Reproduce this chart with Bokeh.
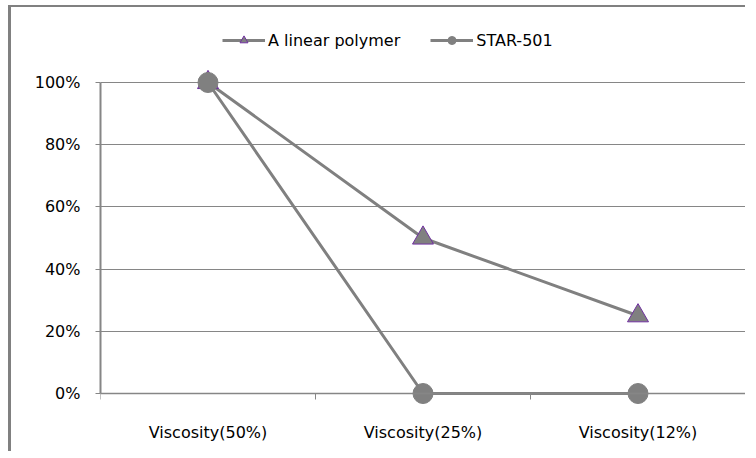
from bokeh.plotting import figure
from bokeh.models import Range1d, FixedTicker, Legend, LegendItem, LinearAxis
from bokeh.embed import file_html
from bokeh.resources import INLINE

categories = ["Viscosity(50%)", "Viscosity(25%)", "Viscosity(12%)"]
linear_polymer = [1.00, 0.50, 0.25]
star_501 = [1.00, 0.00, 0.00]
y_ticks = [0.0, 0.2, 0.4, 0.6, 0.8, 1.0]
y_tick_labels = ["0%", "20%", "40%", "60%", "80%", "100%"]

x = [i + 0.5 for i in range(len(categories))]
bounds_ticks = [i for i in range(len(categories) + 1)]

GRAY = "#868686"
LINE = "#808080"
FONT = "DejaVu Sans"

p = figure(width=737, height=446, output_backend="svg", toolbar_location=None,
           x_range=Range1d(0, len(categories)), y_range=Range1d(-0.0482, 1.2315),
           x_axis_location=None,
           min_border_left=89, min_border_right=3, min_border_top=3, min_border_bottom=45)
p.outline_line_color = None
p.xgrid.visible = False
p.styles = {"margin-left": "8px", "margin-top": "5px",
            "border-top": "2px solid #808080", "border-left": "3px solid #808080"}

# axis line and boundary ticks at y = 0
xa = LinearAxis(fixed_location=0)
xa.ticker = FixedTicker(ticks=x, minor_ticks=bounds_ticks)
xa.bounds = (0, len(categories))
xa.major_tick_out = 0
xa.major_tick_in = 0
xa.minor_tick_out = 6
xa.minor_tick_in = 0
xa.minor_tick_line_color = GRAY
xa.axis_line_color = GRAY
xa.axis_line_width = 1.5
xa.major_label_text_font_size = "0px"
xa.major_label_text_alpha = 0
p.add_layout(xa, "below")

# category labels
xl = LinearAxis()
xl.ticker = FixedTicker(ticks=x, minor_ticks=[])
xl.major_label_overrides = {xv: c for xv, c in zip(x, categories)}
xl.axis_line_color = None
xl.major_tick_line_color = None
xl.minor_tick_line_color = None
xl.major_tick_out = 0
xl.major_tick_in = 0
xl.major_label_standoff = 14
xl.major_label_text_font = FONT
xl.major_label_text_font_size = "16px"
xl.major_label_text_color = "#000000"
p.add_layout(xl, "below")

ya = p.yaxis[0]
ya.ticker = FixedTicker(ticks=y_ticks, minor_ticks=[])
ya.major_label_overrides = {v: t for v, t in zip(y_ticks, y_tick_labels)}
ya.bounds = (0, 1)
ya.major_tick_out = 5
ya.major_tick_in = 0
ya.major_tick_line_color = GRAY
ya.axis_line_color = GRAY
ya.axis_line_width = 2
ya.major_label_standoff = 15
ya.major_label_text_font = FONT
ya.major_label_text_font_size = "16px"
ya.major_label_text_color = "#000000"

p.ygrid.grid_line_color = GRAY
p.ygrid.grid_line_width = 1

l1 = p.line(x, linear_polymer, line_color=LINE, line_width=3)
s1 = p.scatter(x, linear_polymer, marker="triangle", size=21, fill_color=LINE,
               line_color="#7030A0", line_width=1)
l2 = p.line(x, star_501, line_color=LINE, line_width=3)
s2 = p.scatter(x, star_501, marker="circle", size=20, fill_color=LINE,
               line_color=LINE, line_width=1)

legend = Legend(items=[LegendItem(label="A linear polymer", renderers=[l1, s1]),
                       LegendItem(label="STAR-501", renderers=[l2, s2])],
                orientation="horizontal", location=(122, 358))
legend.border_line_color = None
legend.background_fill_alpha = 0
legend.padding = 0
legend.margin = 0
legend.spacing = 30
legend.glyph_width = 43
legend.glyph_height = 20
legend.label_standoff = 3
legend.label_text_font = FONT
legend.label_text_font_size = "16px"
legend.label_text_color = "#000000"
p.add_layout(legend)

open("out.html", "w").write(file_html(p, INLINE))
